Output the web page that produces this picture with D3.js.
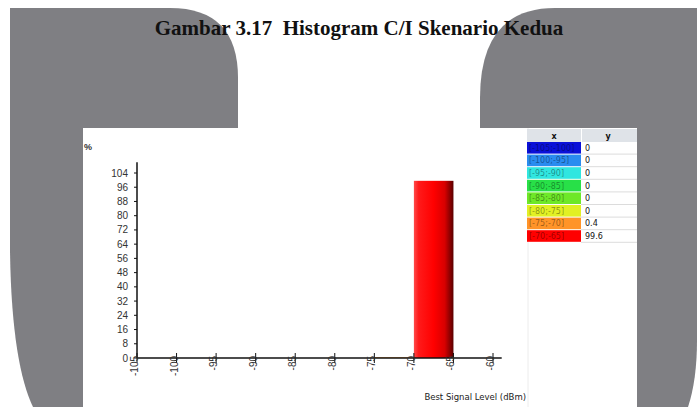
<!DOCTYPE html>
<html>
<head>
<meta charset="utf-8">
<script src="https://cdn.jsdelivr.net/npm/d3@7/dist/d3.min.js"></script>
<style>
  body { margin: 0; background: #fff; }
  svg { display: block; }
</style>
</head>
<body>
<div id="chart"></div>
<script>
// histogram bins (dBm) and share of area (%)
var binLabels = ["[-105;-100]", "[-100;-95]", "[-95;-90]", "[-90;-85]", "[-85;-80]", "[-80;-75]", "[-75;-70]", "[-70;-65]"];
var binStart = [-105, -100, -95, -90, -85, -80, -75, -70];
var binWidth = 5;
var pctValues = [0, 0, 0, 0, 0, 0, 0.4, 99.6];
var pctText = ["0", "0", "0", "0", "0", "0", "0.4", "99.6"];
var binColors = ["#0a10d8", "#2a8cf0", "#30e6e0", "#28e048", "#6ee828", "#e2f024", "#ff9428", "#ff0000"];
var yTicks = [0, 8, 16, 24, 32, 40, 48, 56, 64, 72, 80, 88, 96, 104];
var xTicks = [-105, -100, -95, -90, -85, -80, -75, -70, -65, -60];

var W = 697, H = 407;
var svg = d3.select("#chart").append("svg")
	.attr("width", W).attr("height", H);

// gray watermark shapes behind the screenshot
var gray = "#7f7f83";
svg.append("path")
	.attr("d", "M10,8 H170 Q238,8 238,78 V407 H33 C20,380 11,330 10,250 Z")
	.attr("fill", gray);
svg.append("path")
	.attr("d", "M480,407 V98 Q480,8 555,8 H697 V340 Q697,380 688,407 Z")
	.attr("fill", gray);

// title
svg.append("text")
	.attr("x", 359).attr("y", 35)
	.attr("text-anchor", "middle")
	.style("white-space", "pre")
	.style("font-family", "'Liberation Serif', 'Times New Roman', serif")
	.style("font-weight", "bold")
	.style("font-size", "21px")
	.attr("fill", "#111")
	.text("Gambar 3.17  Histogram C/I Skenario Kedua");

// the white screenshot panel
svg.append("rect")
	.attr("x", 83).attr("y", 128).attr("width", 554).attr("height", 279)
	.attr("fill", "#fff");
svg.append("line")
	.attr("x1", 528).attr("x2", 528).attr("y1", 128).attr("y2", 407)
	.attr("stroke", "#ececec");

var x = d3.scaleLinear().domain([-105, -60]).range([137, 493]);
var y = d3.scaleLinear().domain([0, 104]).range([358, 173]);

var defs = svg.append("defs");
var grad = defs.append("linearGradient").attr("id", "redbar")
	.attr("x1", "0%").attr("x2", "100%").attr("y1", "0%").attr("y2", "0%");
[[0, "#ff4a4a"], [0.12, "#ff1a1a"], [0.5, "#ff0000"], [0.78, "#d80000"], [1, "#5a0000"]].forEach(function (s) {
	grad.append("stop").attr("offset", s[0]).attr("stop-color", s[1]);
});

var font = "'Liberation Sans', Arial, sans-serif";

// bars
svg.selectAll("rect.bar")
	.data(pctValues).enter()
	.append("rect")
	.attr("class", "bar")
	.attr("x", function (d, i) { return x(binStart[i]); })
	.attr("width", function (d, i) { return x(binStart[i] + binWidth) - x(binStart[i]); })
	.attr("y", function (d) { return y(d); })
	.attr("height", function (d) { return y(0) - y(d); })
	.attr("fill", function (d, i) { return i == pctValues.length - 1 ? "url(#redbar)" : binColors[i]; });

// y axis
svg.append("line")
	.attr("x1", x(-105)).attr("x2", x(-105))
	.attr("y1", y(110)).attr("y2", y(0))
	.attr("stroke", "#111").attr("stroke-width", 1.5);
var yt = svg.selectAll("g.yt").data(yTicks).enter().append("g")
	.attr("transform", function (d) { return "translate(0," + y(d) + ")"; });
yt.append("line")
	.attr("x1", x(-105) - 3).attr("x2", x(-105))
	.attr("stroke", "#111");
yt.append("text")
	.attr("x", 128).attr("y", 3.5)
	.attr("text-anchor", "end")
	.style("font-family", font).style("font-size", "10px")
	.attr("fill", "#333")
	.text(function (d) { return d; });

// x axis
svg.append("line")
	.attr("x1", x(-105)).attr("x2", x(-58.9))
	.attr("y1", y(0)).attr("y2", y(0))
	.attr("stroke", "#111").attr("stroke-width", 1.5);
var xt = svg.selectAll("g.xt").data(xTicks).enter().append("g")
	.attr("transform", function (d) { return "translate(" + x(d) + ",0)"; });
xt.append("line")
	.attr("y1", y(0) - 5).attr("y2", y(0) + 5)
	.attr("stroke", "#111");
xt.append("text")
	.attr("transform", "translate(1," + (y(0) - 2) + ") rotate(-90)")
	.attr("text-anchor", "end")
	.style("font-family", font).style("font-size", "10px")
	.attr("fill", "#333")
	.text(function (d) { return d; });

svg.append("text")
	.attr("x", 84).attr("y", 150)
	.style("font-family", font).style("font-size", "9px").style("font-weight", "bold")
	.attr("fill", "#333")
	.text("%");
svg.append("text")
	.attr("x", 526).attr("y", 400)
	.attr("text-anchor", "end")
	.style("font-family", "'DejaVu Sans', sans-serif").style("font-size", "8.5px")
	.attr("fill", "#222")
	.text("Best Signal Level (dBm)");

// legend table on the right
var tx = 527, colW = 54, rowH = 12.6, ty = 129;
svg.append("rect").attr("x", tx).attr("y", ty).attr("width", colW * 2 + 2).attr("height", 13)
	.attr("fill", "#dfe3e8");
svg.append("line").attr("x1", tx + colW + 0.5).attr("x2", tx + colW + 0.5).attr("y1", ty).attr("y2", ty + 13)
	.attr("stroke", "#fff");
[["x", tx + colW / 2], ["y", tx + colW * 1.5]].forEach(function (h) {
	svg.append("text").attr("x", h[1]).attr("y", ty + 9.5)
		.attr("text-anchor", "middle")
		.style("font-family", "'DejaVu Sans', sans-serif").style("font-size", "8px").style("font-weight", "bold")
		.attr("fill", "#111").text(h[0]);
});
var rows = svg.selectAll("g.row").data(binLabels).enter().append("g")
	.attr("transform", function (d, i) { return "translate(" + tx + "," + (ty + 13 + i * rowH) + ")"; });
rows.append("rect")
	.attr("width", colW).attr("height", rowH - 1)
	.attr("fill", function (d, i) { return binColors[i]; });
rows.append("text")
	.attr("x", 2).attr("y", 8.8)
	.style("font-family", "'DejaVu Sans', sans-serif").style("font-size", "8px")
	.attr("fill", "#000").attr("fill-opacity", 0.4)
	.text(function (d) { return d; });
rows.append("line")
	.attr("x1", colW).attr("x2", colW * 2 + 2)
	.attr("y1", rowH - 0.5).attr("y2", rowH - 0.5)
	.attr("stroke", "#dcdcdc");
rows.append("text")
	.attr("x", colW + 4).attr("y", 8.8)
	.style("font-family", "'DejaVu Sans', sans-serif").style("font-size", "8px")
	.attr("fill", "#111")
	.text(function (d, i) { return pctText[i]; });
</script>
</body>
</html>
